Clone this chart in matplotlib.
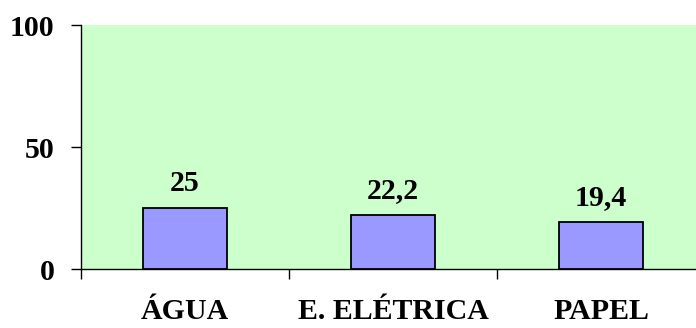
import matplotlib.pyplot as plt

# consumo por categoria
categorias = ['ÁGUA', 'E. ELÉTRICA', 'PAPEL']
valores = [25, 22.2, 19.4]

plt.rcParams['font.family'] = ['Liberation Serif', 'DejaVu Serif']
plt.rcParams['font.weight'] = 'bold'

fig = plt.figure(figsize=(6.96, 3.28), dpi=100)
ax = fig.add_axes([81 / 696, 1 - 269 / 328, 624 / 696, 244 / 328])
ax.set_facecolor('#CCFFCC')

x = range(len(categorias))
ax.bar(x, valores, width=0.4, color='#9999FF', edgecolor='black', linewidth=1.3, zorder=3)

for xi, v in zip(x, valores):
    txt = f'{v:g}'.replace('.', ',')
    ax.annotate(txt, (xi, v), xytext=(0, 8), textcoords='offset points',
                ha='center', va='bottom', fontsize=21.5, fontweight='bold')

ax.set_xlim(-0.5, len(categorias) - 0.5)
ax.set_ylim(0, 100)
ax.set_yticks([0, 50, 100])
ax.set_yticklabels(['0', '50', '100'], fontsize=21.5, fontweight='bold')

# ticks nos limites das categorias, rótulos no centro
ax.set_xticks([i - 0.5 for i in range(len(categorias) + 1)])
ax.set_xticklabels([])
ax.set_xticks(list(x), minor=True)
ax.set_xticklabels(categorias, minor=True, fontsize=21.5, fontweight='bold')
ax.tick_params(axis='x', which='minor', length=0, pad=21)
ax.tick_params(axis='x', which='major', length=7, width=1, direction='out')
ax.tick_params(axis='y', length=7, width=1, pad=12)

for s in ['top', 'right']:
    ax.spines[s].set_visible(False)
ax.spines['left'].set_linewidth(1)
ax.spines['bottom'].set_linewidth(1)

fig.savefig('out.png', dpi=100)
